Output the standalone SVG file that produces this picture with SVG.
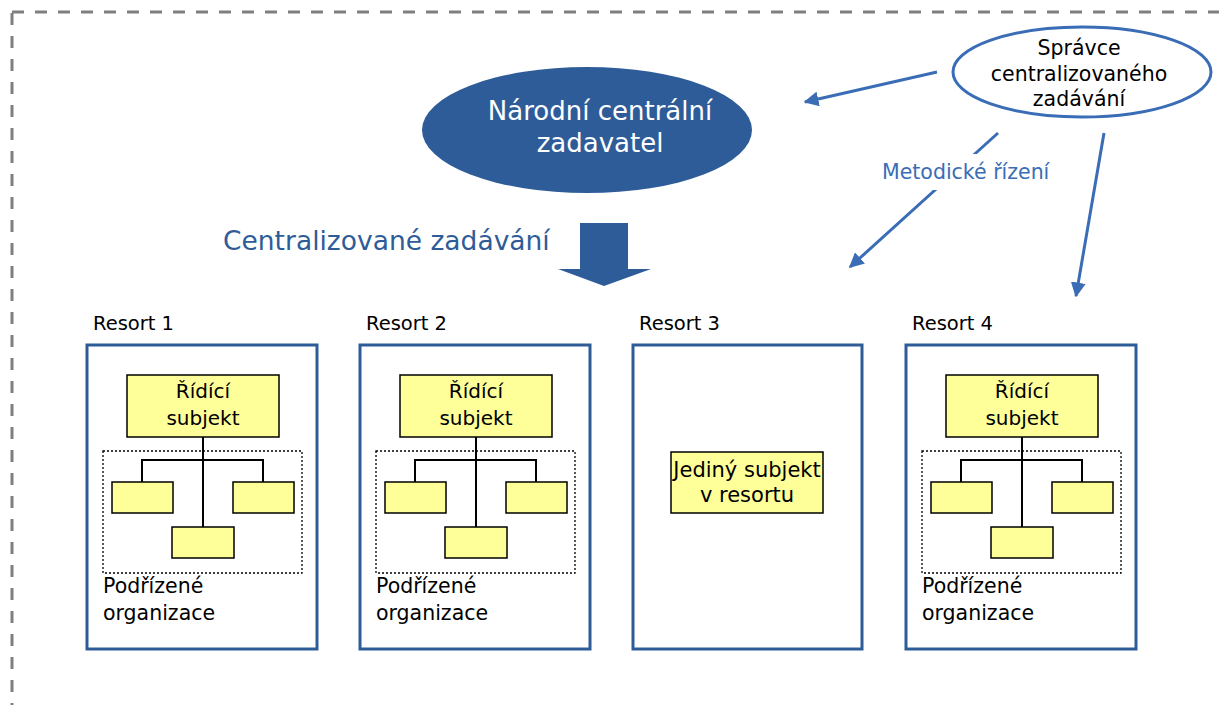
<svg xmlns="http://www.w3.org/2000/svg" width="1219" height="705" viewBox="0 0 1219 705">
<defs>
<style>
text{font-family:"DejaVu Sans","Liberation Sans",sans-serif;}
.frame{fill:none;stroke:#7f7f7f;stroke-width:3;stroke-dasharray:12 11;}
.resort{fill:#fff;stroke:#2E5C99;stroke-width:3;}
.yb{fill:#FFFF99;stroke:#000;stroke-width:1.5;}
.dot{fill:none;stroke:#000;stroke-width:1.3;stroke-dasharray:2 2;}
.ln{stroke:#000;stroke-width:2;fill:none;}
.lbl{font-size:19.5px;fill:#000;}
.sub{font-size:20.5px;fill:#000;}
.ctr{font-size:20px;fill:#000;text-anchor:middle;}
.sp{font-size:20.5px;fill:#000;text-anchor:middle;}
.arr{stroke:#3A6DB5;stroke-width:3;fill:none;marker-end:url(#ah);}
</style>
<marker id="ah" viewBox="0 0 10 10" refX="9" refY="5" markerWidth="5" markerHeight="5" orient="auto" markerUnits="strokeWidth">
<path d="M0,0 L10,5 L0,10 z" fill="#3A6DB5"/>
</marker>
<g id="tree">
<rect class="yb" x="127" y="375" width="152" height="62"/>
<text class="ctr" x="203" y="398">Řídící</text>
<text class="ctr" x="203" y="425">subjekt</text>
<rect class="dot" x="103" y="451" width="199" height="122"/>
<path class="ln" d="M203,437 V527 M142,482 V460 H263 V482"/>
<rect class="yb" x="112" y="482" width="61" height="31"/>
<rect class="yb" x="233" y="482" width="61" height="31"/>
<rect class="yb" x="172" y="527" width="62" height="31"/>
<text class="sub" x="103" y="593">Podřízené</text>
<text class="sub" x="103" y="620">organizace</text>
</g>
</defs>
<rect class="frame" x="12" y="12" width="1230" height="720"/>
<g id="narodni">
<ellipse cx="587" cy="130" rx="165" ry="63" fill="#2E5C99"/>
<text x="600" y="120" font-size="26" fill="#fff" text-anchor="middle">Národní centrální</text>
<text x="600" y="152" font-size="26" fill="#fff" text-anchor="middle">zadavatel</text>
</g>
<g id="spravce">
<ellipse cx="1082" cy="72" rx="129" ry="45" fill="#fff" stroke="#3A6DB5" stroke-width="3"/>
<text class="sp" x="1079" y="55">Správce</text>
<text class="sp" x="1079" y="81">centralizovaného</text>
<text class="sp" x="1079" y="106">zadávání</text>
</g>
<g id="centralizovane">
<text x="223" y="250" font-size="26.5" fill="#2E5C99">Centralizované zadávání</text>
<path d="M580,223 H628 V269 H651 L604,286 L558,269 H580 Z" fill="#2E5C99"/>
</g>
<g id="connectors">
<line class="arr" x1="998" y1="133" x2="850" y2="267"/>
<line class="arr" x1="937" y1="72" x2="805" y2="102"/>
<line class="arr" x1="1104" y1="133" x2="1076" y2="296"/>
<rect x="878" y="154" width="180" height="36" fill="#fff"/>
<text x="882" y="179" font-size="20.5" fill="#3A6DB5">Metodické řízení</text>
</g>
<g id="resort1">
<text class="lbl" x="93" y="330">Resort 1</text>
<rect class="resort" x="87" y="345" width="230" height="304"/>
<use href="#tree"/>
</g>
<g id="resort2">
<text class="lbl" x="366" y="330">Resort 2</text>
<rect class="resort" x="360" y="345" width="230" height="304"/>
<use href="#tree" x="273"/>
</g>
<g id="resort3">
<text class="lbl" x="639" y="330">Resort 3</text>
<rect class="resort" x="633" y="345" width="229" height="304"/>
<rect class="yb" x="671" y="452" width="152" height="61"/>
<text class="ctr" x="747" y="477" style="font-size:21px">Jediný subjekt</text>
<text class="ctr" x="747" y="502" style="font-size:21px">v resortu</text>
</g>
<g id="resort4">
<text class="lbl" x="912" y="330">Resort 4</text>
<rect class="resort" x="906" y="345" width="230" height="304"/>
<use href="#tree" x="819"/>
</g>
</svg>
